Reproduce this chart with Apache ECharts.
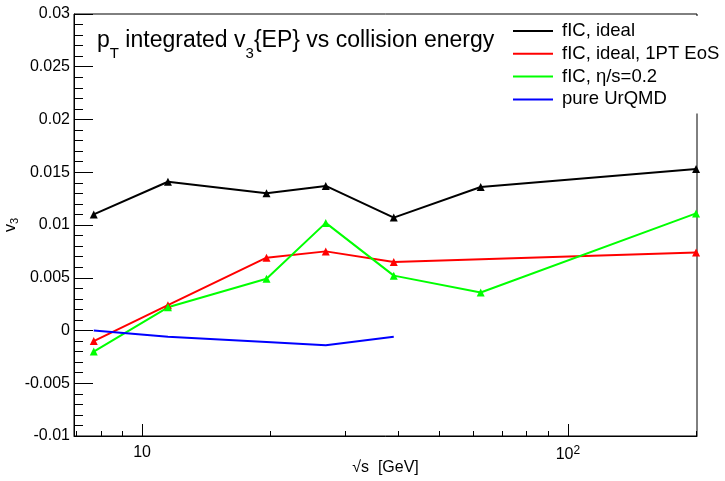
<!DOCTYPE html>
<html>
<head>
<meta charset="utf-8">
<script src="https://cdn.jsdelivr.net/npm/echarts@6/dist/echarts.min.js"></script>
<style>
html,body{margin:0;padding:0;background:#fff;}
#chart{width:725px;height:481px;}
</style>
</head>
<body>
<div id="chart"></div>
<script>
// ---- data ----
var energies = [7.7, 11.5, 19.6, 27, 39, 62.4, 200];
var fICideal = [0.0110, 0.0141, 0.0130, 0.0137, 0.0107, 0.0136, 0.0153];
var fIC1PT   = [-0.0010, 0.0024, 0.0069, 0.0075, 0.0065, null, 0.0074];
var fICvisc  = [-0.0020, 0.0022, 0.0049, 0.0102, 0.0052, 0.0036, 0.0111];
var urqmd    = [0.0000, -0.0006, -0.0011, -0.0014, -0.0006, null, null];
var seriesNames = ['fIC, ideal', 'fIC, ideal, 1PT EoS', 'fIC, \u03b7/s=0.2', 'pure UrQMD'];
var xMajorTicks = [10, 100];
var xMinorTicks = [7, 8, 9, 20, 30, 40, 50, 60, 70, 80, 90, 200];
var yTickStep = 0.005;

function pairs(ys) {
  var out = [];
  for (var i = 0; i < energies.length; i++) {
    if (ys[i] !== null) out.push([energies[i], ys[i]]);
  }
  return out;
}

var FONT = "'Liberation Sans', Arial, Helvetica, sans-serif";
var chart = echarts.init(document.getElementById('chart'), null, {renderer: 'canvas'});

var xMin = 6.92, xMax = 201;

function mkSeries(name, ys, color, marker) {
  return {
    name: name,
    type: 'line',
    data: pairs(ys),
    symbol: marker ? 'triangle' : 'none',
    showSymbol: marker,
    symbolSize: 8,
    lineStyle: {color: color, width: 2},
    itemStyle: {color: color},
    animation: false,
    z: 3
  };
}

var option = {
  animation: false,
  backgroundColor: '#fff',
  textStyle: {fontFamily: FONT},
  grid: {
    left: 74, right: 28, top: 14, bottom: 45,
    containLabel: false, outerBoundsMode: 'none',
    show: true, borderColor: '#000', borderWidth: 1, backgroundColor: 'transparent'
  },
  legend: {
    orient: 'vertical',
    left: 503, top: 16,
    padding: [4, 12, 3, 10],
    backgroundColor: '#fff',
    icon: 'rect',
    itemWidth: 40, itemHeight: 2,
    itemGap: 0.8,
    data: seriesNames,
    textStyle: {fontFamily: FONT, fontSize: 18.5, color: '#000', lineHeight: 22, padding: [0, 0, 0, 4]},
    z: 10
  },
  xAxis: [{
    type: 'log', logBase: 10, min: xMin, max: xMax,
    gridIndex: 0, position: 'bottom',
    name: '\u221as  [GeV]', nameLocation: 'middle', nameGap: 24, nameMoveOverlap: false,
    nameTextStyle: {fontFamily: FONT, fontSize: 16, color: '#000'},
    axisLine: {show: true, onZero: false, lineStyle: {color: '#000', width: 1}},
    axisTick: {show: true, inside: true, length: 12, customValues: xMajorTicks, lineStyle: {color: '#000'}},
    axisLabel: {
      show: true, customValues: xMajorTicks, margin: 9,
      fontFamily: FONT, fontSize: 16, color: '#000',
      formatter: function (v) { return v >= 99 ? '10{sup|2}' : '10'; },
      rich: {sup: {fontSize: 12, fontFamily: FONT, color: '#000', verticalAlign: 'bottom', padding: [0, 0, 8, 0]}}
    },
    splitLine: {show: false}
  }, {
    type: 'log', logBase: 10, min: xMin, max: xMax,
    gridIndex: 0, position: 'bottom',
    axisLine: {show: false, onZero: false},
    axisTick: {show: true, inside: true, length: 5, customValues: xMinorTicks, lineStyle: {color: '#000'}},
    axisLabel: {show: false},
    splitLine: {show: false}
  }],
  yAxis: {
    type: 'value', min: -0.01, max: 0.03, interval: yTickStep,
    name: '{v|v}{s|3}', nameLocation: 'middle', nameGap: 54, nameRotate: 90, nameMoveOverlap: false,
    nameTextStyle: {
      fontFamily: FONT, fontSize: 16, color: '#000',
      rich: {v: {fontSize: 16, fontFamily: FONT, color: '#000'}, s: {fontSize: 11, fontFamily: FONT, color: '#000', verticalAlign: 'top', padding: [8, 0, 0, 0]}}
    },
    axisLine: {show: true, onZero: false, lineStyle: {color: '#000', width: 1}},
    axisTick: {show: true, inside: true, length: 19, lineStyle: {color: '#000'}},
    minorTick: {show: true, splitNumber: 5, length: 9, lineStyle: {color: '#000'}},
    axisLabel: {
      fontFamily: FONT, fontSize: 16, color: '#000', margin: 4,
      formatter: function (v) { return String(Number(v.toFixed(3))); }
    },
    splitLine: {show: false},
    minorSplitLine: {show: false}
  },
  series: [
    mkSeries(seriesNames[0], fICideal, '#000000', true),
    mkSeries(seriesNames[1], fIC1PT, '#ff0000', true),
    mkSeries(seriesNames[2], fICvisc, '#00ff00', true),
    mkSeries(seriesNames[3], urqmd, '#0000ff', false)
  ],
  graphic: [{
    type: 'text', left: 97, top: 21, z: 20,
    style: {
      text: 'p{s|T} integrated v{s|3}{EP} vs collision energy',
      fill: '#000',
      font: '23px ' + FONT,
      lineHeight: 40,
      rich: {
        s: {fontSize: 15, fontFamily: FONT, fill: '#000', lineHeight: 15, verticalAlign: 'bottom'}
      }
    }
  }]
};
chart.setOption(option);
</script>
</body>
</html>
